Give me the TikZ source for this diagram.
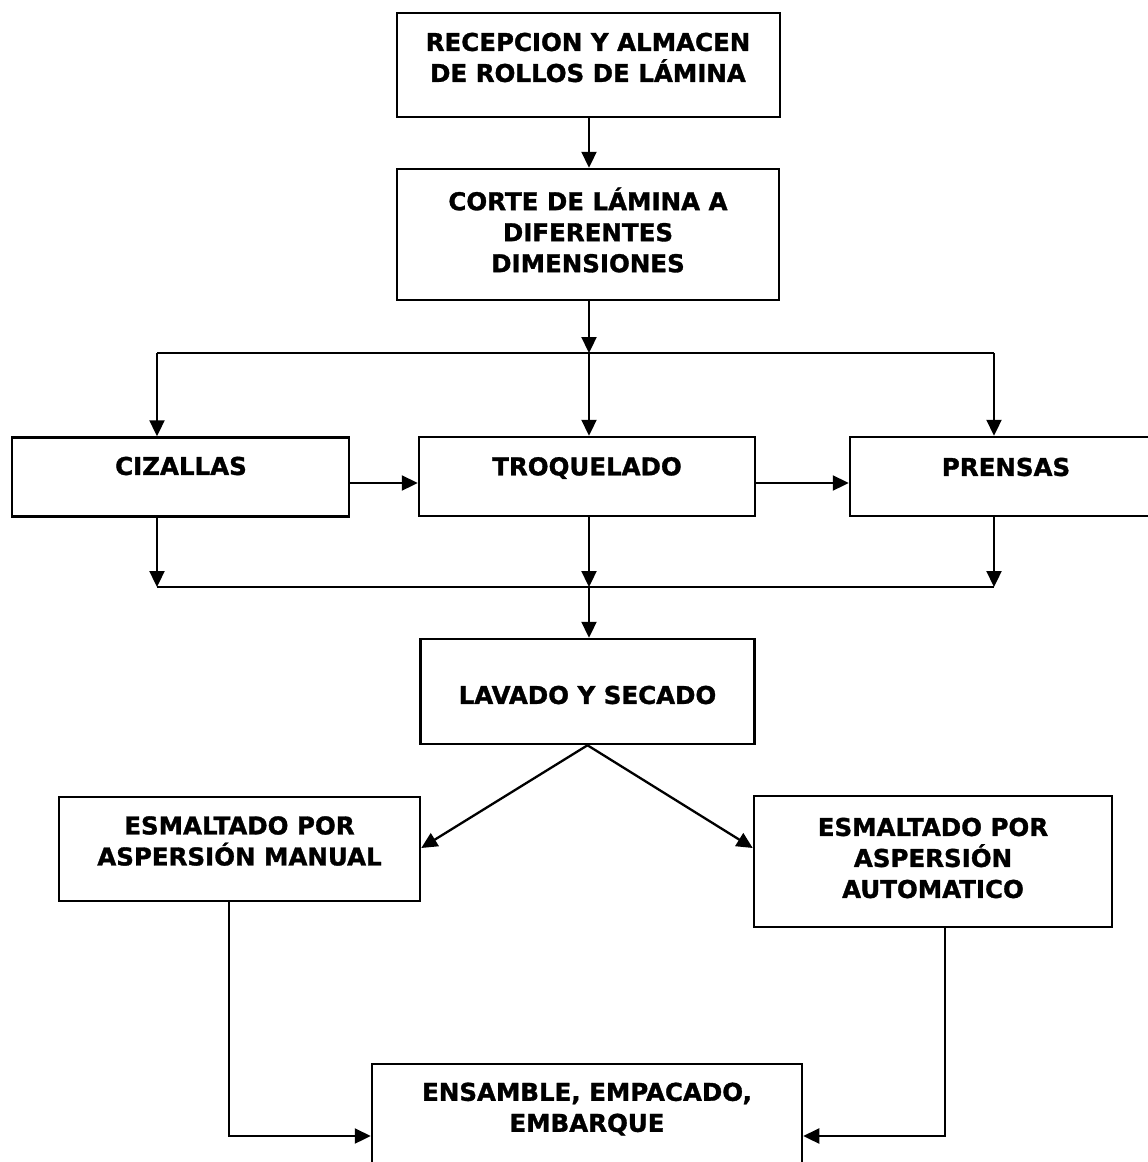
\documentclass[tikz,border=0pt]{standalone}
\usepackage{fontspec}
\setmainfont[BoldFeatures={FakeBold=1.3}]{DejaVu Sans}
\usetikzlibrary{arrows.meta}
\begin{document}
\begin{tikzpicture}[x=1pt,y=-1pt,
  box/.style={draw, line width=2.5pt, inner sep=0pt},
  txt/.style={font=\bfseries\fontsize{24.5}{31}\selectfont, align=center, inner sep=0pt},
  conn/.style={line width=2.3pt},
  arr/.style={conn, -{Triangle[length=16pt,width=15pt]}}]
\useasboundingbox (0,0) rectangle (1148,1162);
\clip (0,0) rectangle (1148,1162);
% boxes
\node[box, minimum width=383pt, minimum height=104pt] (b1) at (588.5,65) {};
\node[box, minimum width=382pt, minimum height=131pt] (b2) at (588,234.5) {};
\node[box, minimum width=337pt, minimum height=79pt] (bc) at (180.5,477) {};
\node[box, minimum width=336pt, minimum height=79pt] (bt) at (587,476.5) {};
\node[box, minimum width=312pt, minimum height=79pt] (bp) at (1006,476.5) {};
\node[box, minimum width=334pt, minimum height=105pt] (bl) at (587.5,691.5) {};
\node[box, minimum width=361pt, minimum height=104pt] (bm) at (239.5,849) {};
\node[box, minimum width=358pt, minimum height=131pt] (ba) at (933,861.5) {};
\node[box, minimum width=430pt, minimum height=126pt] (be) at (587,1127) {};
% texts
\node[txt] (t1) at (588,57.5) {RECEPCION Y ALMACEN\\DE ROLLOS DE LÁMINA};
\node[txt] (t2) at (588,230) {CORTE DE LÁMINA A\\DIFERENTES\\DIMENSIONES};
\node[txt] (tc) at (181,466) {CIZALLAS};
\node[txt] (tt) at (587,468) {TROQUELADO};
\node[txt] (tp) at (1006,467) {PRENSAS};
\node[txt] (tl) at (587.5,695) {LAVADO Y SECADO};
\node[txt] (tm) at (239.5,841) {ESMALTADO POR\\ASPERSIÓN MANUAL};
\node[txt] (ta) at (933,858) {ESMALTADO POR\\ASPERSIÓN\\AUTOMATICO};
\node[txt] (te) at (587,1109) {ENSAMBLE, EMPACADO,\\EMBARQUE};
% helper coordinates
\coordinate (j1) at (589,353);
\coordinate (jl) at (157,353);
\coordinate (jr) at (994,353);
\coordinate (k1) at (157,587);
\coordinate (k2) at (589,587);
\coordinate (k3) at (994,587);
\coordinate (h) at (0,483);
\coordinate (d) at (0,848);
\coordinate (e) at (0,1136);
\coordinate (m) at (229,0);
\coordinate (a) at (945,0);
% connectors
\draw[arr] (j1 |- b1.south) -- (j1 |- b2.north);
\draw[arr] (j1 |- b2.south) -- (j1);
\draw[conn] (jl) -- (jr);
\draw[arr] (jl) -- (jl |- bc.north);
\draw[arr] (j1) -- (j1 |- bt.north);
\draw[arr] (jr) -- (jr |- bp.north);
\draw[arr] (bc.east |- h) -- (bt.west |- h);
\draw[arr] (bt.east |- h) -- (bp.west |- h);
\draw[arr] (k1 |- bc.south) -- (k1);
\draw[arr] (k2 |- bt.south) -- (k2);
\draw[arr] (k3 |- bp.south) -- (k3);
\draw[conn] (k1) -- (k3);
\draw[arr] (k2) -- (k2 |- bl.north);
\draw[arr] (bl.south) -- (bm.east |- d);
\draw[arr] (bl.south) -- (ba.west |- d);
\draw[arr] (m |- bm.south) -- (m |- e) -- (be.west |- e);
\draw[arr] (a |- ba.south) -- (a |- e) -- (be.east |- e);
\end{tikzpicture}
\end{document}
